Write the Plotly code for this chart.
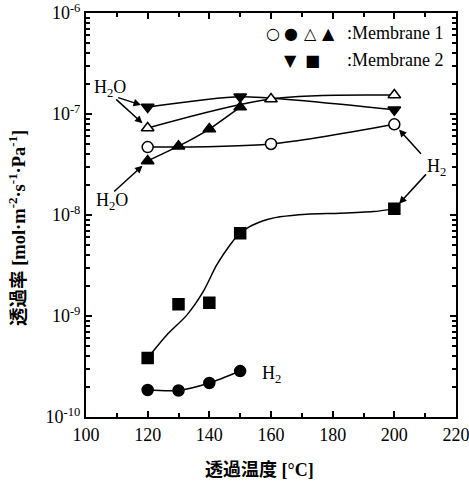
import numpy as np
import plotly.graph_objects as go

# ---- data ----
temps_a = [120, 160, 200]
m1_h2_open = [4.7e-8, 5.05e-8, 7.9e-8]            # open circles

temps_b = [120, 130, 140, 150]
m1_h2_fill = [1.85e-10, 1.83e-10, 2.17e-10, 2.85e-10]  # filled circles

temps_c = [120, 160, 200]
m1_h2o_open = [7.26e-8, 1.41e-7, 1.54e-7]          # open triangles

temps_d = [120, 130, 140, 150]
m1_h2o_fill = [3.43e-8, 4.8e-8, 7.1e-8, 1.17e-7]   # filled triangles

temps_e = [120, 150, 200]
m2_h2o = [1.17e-7, 1.48e-7, 1.1e-7]               # inverted triangles

temps_f = [120, 130, 140, 150, 200]
m2_h2 = [3.84e-10, 1.31e-9, 1.35e-9, 6.6e-9, 1.15e-8]  # squares

# fitted curve through squares
fit_t = [120, 126.2, 132.7, 138.0, 142.4, 146.7, 149.9, 152.7, 155.4, 159.1, 162.9, 171.6, 182.4, 193.2, 200]
fit_v = [3.84e-10, 6.49e-10, 1.02e-9, 1.74e-9, 3.2e-9, 5.05e-9, 6.6e-9, 7.55e-9, 8.28e-9, 9.06e-9,
         9.6e-9, 1.02e-8, 1.04e-8, 1.08e-8, 1.15e-8]

x_ticks = [100, 120, 140, 160, 180, 200, 220]
y_ticks = [1e-10, 1e-9, 1e-8, 1e-7, 1e-6]
y_ticktext = ["10<sup>-10</sup>", "10<sup>-9</sup>", "10<sup>-8</sup>", "10<sup>-7</sup>", "10<sup>-6</sup>"]

x_title = "<b>透過温度 [°C]</b>"
y_title = "<b>透過率 [mol·m<sup>-2</sup>·s<sup>-1</sup>·Pa<sup>-1</sup>]</b>"

SERIF = "Liberation Serif, Times New Roman, serif"
TITLE_FONT = "Liberation Serif, Noto Sans CJK JP"
LW = 1.5
MS = 11

fig = go.Figure()

def curve(x, y, smoothing=1.0):
    fig.add_trace(go.Scatter(x=x, y=y, mode="lines",
                             line=dict(color="black", width=LW, shape="spline", smoothing=smoothing),
                             hoverinfo="skip", showlegend=False))

def pts(x, y, symbol, filled):
    fig.add_trace(go.Scatter(x=x, y=y, mode="markers",
                             marker=dict(symbol=symbol, size=MS,
                                         color="black" if filled else "white",
                                         line=dict(color="black", width=1.5)),
                             showlegend=False))

curve(temps_a, m1_h2_open, 0.8)
curve(temps_b, m1_h2_fill, 0.8)
curve(temps_c, m1_h2o_open, 0.9)
curve(temps_d, m1_h2o_fill, 0.5)
curve(temps_e, m2_h2o, 0.6)
curve(fit_t, fit_v, 0.7)

pts(temps_a, m1_h2_open, "circle", False)
pts(temps_b, m1_h2_fill, "circle", True)
pts(temps_c, m1_h2o_open, "triangle-up", False)
pts(temps_d, m1_h2o_fill, "triangle-up", True)
pts(temps_e, m2_h2o, "triangle-down", True)
pts(temps_f, m2_h2, "square", True)

# ---- labels and arrows ----
L, R, T, B = 86, 456, 13, 417
def px_to_paper(px, py):
    return (px - L) / (R - L), (B - py) / (B - T)

def text_at(px, py, txt, size=18, family=SERIF, angle=0):
    xp, yp = px_to_paper(px, py)
    fig.add_annotation(x=xp, y=yp, xref="paper", yref="paper", text=txt, textangle=angle,
                       showarrow=False, font=dict(family=family, size=size, color="black"),
                       xanchor="center", yanchor="middle")

def arrow(xd, yd, ax, ay):
    fig.add_annotation(x=xd, y=np.log10(yd), xref="x", yref="y", text="",
                       showarrow=True, arrowhead=2, arrowsize=1, arrowwidth=1.5,
                       arrowcolor="black", ax=ax, ay=ay, standoff=7)

text_at(110, 88, "H<sub>2</sub>O")
text_at(112, 201, "H<sub>2</sub>O")
text_at(436, 167, "H<sub>2</sub>")
text_at(271, 374, "H<sub>2</sub>")

arrow(temps_e[0], m2_h2o[0], -31, -10)
arrow(temps_c[0], m1_h2o_open[0], -33, -30)
arrow(temps_d[0], m1_h2o_fill[0], -35, 32)
arrow(temps_a[2], m1_h2_open[2], 28, 31)
arrow(temps_f[4], m2_h2[4], 33, -36)

# axis titles
text_at(259, 470, x_title, size=18, family=TITLE_FONT)
text_at(17, 228, y_title, size=18.5, family=TITLE_FONT, angle=-90)

# legend as text
sym_font = dict(family="DejaVu Sans", size=16, color="black")
for px, py, s in [(273, 33, "○"), (291, 33, "●"), (310, 33, "△"), (328, 33, "▲"),
                  (290, 60, "▼"), (312, 60, "■")]:
    xp, yp = px_to_paper(px, py)
    fig.add_annotation(x=xp, y=yp, xref="paper", yref="paper", text=s, showarrow=False,
                       font=sym_font, xanchor="center", yanchor="middle")
for py, t in [(33, ":Membrane 1"), (60, ":Membrane 2")]:
    xp, yp = px_to_paper(345, py)
    fig.add_annotation(x=xp, y=yp, xref="paper", yref="paper", text=t, showarrow=False,
                       font=dict(family=SERIF, size=18, color="black"),
                       xanchor="left", yanchor="middle")

axis_common = dict(showline=True, linecolor="black", linewidth=2, mirror="ticks",
                   ticks="inside", ticklen=6, tickwidth=1.5, tickcolor="black",
                   showgrid=False, zeroline=False, ticklabeloverflow="allow", automargin=False,
                   tickfont=dict(family=SERIF, size=18, color="black"))

fig.update_xaxes(range=[100, 220], tickvals=x_ticks,
                 minor=dict(ticks="inside", ticklen=4, tickwidth=1.5, tickcolor="black", dtick=10, showgrid=False),
                 **axis_common)
fig.update_yaxes(type="log", range=[-10, -6], tickvals=y_ticks, ticktext=y_ticktext,
                 minor=dict(ticks="inside", ticklen=4, tickwidth=1.5, tickcolor="black", dtick="D1", showgrid=False),
                 **axis_common)

fig.update_layout(width=469, height=483, margin=dict(l=86, r=13, t=13, b=66),
                  plot_bgcolor="white", paper_bgcolor="white", showlegend=False)

fig.write_html("out.html", config={"displayModeBar": False},
               post_script="document.body.style.margin='0';document.body.style.overflow='hidden';")
